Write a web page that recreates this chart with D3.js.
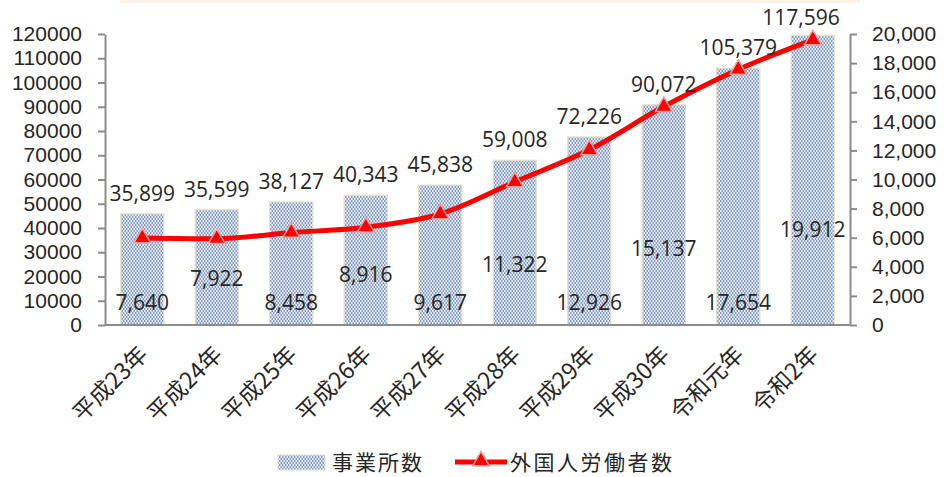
<!DOCTYPE html>
<html>
<head>
<meta charset="utf-8">
<script src="https://d3js.org/d3.v7.min.js"></script>
<style>
  body { margin:0; background:#fff; }
  svg text { font-family:"Open Sans","Noto Sans",sans-serif; fill:#262626; }
  .jp { font-family:"Noto Sans CJK JP",sans-serif; }
</style>
</head>
<body>
<svg id="chart"></svg>
<script>
// data
var years = ["平成23年","平成24年","平成25年","平成26年","平成27年","平成28年","平成29年","平成30年","令和元年","令和2年"];
var offices = [7640, 7922, 8458, 8916, 9617, 11322, 12926, 15137, 17654, 19912];      // bars, right axis
var workers = [35899, 35599, 38127, 40343, 45838, 59008, 72226, 90072, 105379, 117596]; // line, left axis
var leftTicks = [0,10000,20000,30000,40000,50000,60000,70000,80000,90000,100000,110000,120000];
var rightTicks = [0,2000,4000,6000,8000,10000,12000,14000,16000,18000,20000];
var barName = "事業所数";
var lineName = "外国人労働者数";

var screen = { width:944, height:477 };
var svg = d3.select("#chart")
            .attr("width", screen.width)
            .attr("height", screen.height);

var plot = { left:105, right:850, top:34, bottom:325 };

// bar pattern (dotted fill)
var defs = svg.append("defs");
var pat = defs.append("pattern")
              .attr("id","dots")
              .attr("patternUnits","userSpaceOnUse")
              .attr("width",3).attr("height",4);
pat.append("rect").attr("width",3).attr("height",4).attr("fill","#e4ebf5");
pat.append("circle").attr("cx",0.75).attr("cy",1).attr("r",0.8).attr("fill","#3f5f97");
pat.append("circle").attr("cx",2.25).attr("cy",3).attr("r",0.8).attr("fill","#3f5f97");

// faint strip at the very top
svg.append("rect").attr("x",120).attr("y",0).attr("width",740).attr("height",3).attr("fill","#fdf4e6");

var xScale = d3.scaleBand()
               .domain(years)
               .range([plot.left, plot.right])
               .paddingInner(0.42)
               .paddingOuter(0.21);
var yLeft = d3.scaleLinear().domain([0,120000]).range([plot.bottom, plot.top]);
var yRight = d3.scaleLinear().domain([0,20000]).range([plot.bottom, plot.top]);

// bars
svg.append("g").selectAll("rect")
   .data(offices)
   .enter()
   .append("rect")
   .attr("x", function(d,i) { return xScale(years[i]); })
   .attr("y", function(d) { return yRight(d); })
   .attr("width", xScale.bandwidth())
   .attr("height", function(d) { return plot.bottom - yRight(d); })
   .attr("fill","url(#dots)")
   .attr("stroke","#e6e2c6")
   .attr("stroke-width",1.2);

// axes
var axisColor = "#8c8c8c";
svg.append("line")
   .attr("x1",plot.left).attr("x2",plot.right)
   .attr("y1",plot.bottom).attr("y2",plot.bottom)
   .attr("stroke",axisColor).attr("stroke-width",2);

var yAxis = d3.axisLeft(yLeft).tickValues(leftTicks).tickFormat(d3.format("d"))
              .tickSize(7).tickSizeOuter(0).tickPadding(16);
var gl = svg.append("g").attr("transform","translate("+plot.left+",0)").call(yAxis);

var yAxis2 = d3.axisRight(yRight).tickValues(rightTicks).tickFormat(d3.format(","))
               .tickSize(7).tickSizeOuter(0).tickPadding(15);
var gr = svg.append("g").attr("transform","translate("+plot.right+",0)").call(yAxis2);

[gl, gr].forEach(function(g) {
  g.select(".domain").attr("stroke",axisColor).attr("stroke-width",2);
  g.selectAll(".tick line").attr("stroke",axisColor).attr("stroke-width",2);
  g.selectAll(".tick text")
   .style("font-family","'Liberation Sans',Arial,sans-serif")
   .style("font-size","21px").attr("fill","#262626");
});

// line
var cx = function(d,i) { return xScale(years[i]) + xScale.bandwidth()/2; };
var line = d3.line()
             .x(function(d,i) { return cx(d,i); })
             .y(function(d) { return yLeft(d); })
             .curve(d3.curveMonotoneX);
svg.append("path")
   .datum(workers)
   .attr("d", line)
   .attr("fill","none")
   .attr("stroke","#ff0000")
   .attr("stroke-width",5);

var tri = d3.symbol().type(d3.symbolTriangle).size(120);
svg.append("g").selectAll("path")
   .data(workers)
   .enter()
   .append("path")
   .attr("d", tri)
   .attr("transform", function(d,i) { return "translate("+cx(d,i)+","+yLeft(d)+")"; })
   .attr("fill","#ff0000")
   .attr("stroke","#f7a0a0")
   .attr("stroke-width",1.5);

// labels for line values, above the higher of bar top / point
svg.append("g").selectAll("text")
   .data(workers)
   .enter()
   .append("text")
   .attr("x", function(d,i) { return Math.min(cx(d,i), 801); })
   .attr("y", function(d,i) { return Math.max(Math.min(yLeft(d), yRight(offices[i])) - 13, 25); })
   .attr("text-anchor","middle")
   .style("font-size","21px")
   .text(d3.format(","));

// labels for bar values, alternating low / mid
svg.append("g").selectAll("text")
   .data(offices)
   .enter()
   .append("text")
   .attr("x", function(d,i) { return cx(d,i); })
   .attr("y", function(d,i) {
      var c = (i % 2 === 0) ? 302 : yRight(d*0.28 + 1000);
      return c + 7.5;
   })
   .attr("text-anchor","middle")
   .style("font-size","21px")
   .text(d3.format(","));

// category labels
svg.append("g").selectAll("text")
   .data(years)
   .enter()
   .append("text")
   .attr("class","jp")
   .attr("transform", function(d) { return "translate("+(xScale(d)+xScale.bandwidth()/2+7)+",356) rotate(-45)"; })
   .attr("text-anchor","end")
   .style("font-size","23px")
   .text(function(d) { return d; });

// legend
var legend = svg.append("g").classed("legend",true);
legend.append("rect")
      .attr("x",278).attr("y",455).attr("width",47).attr("height",15)
      .attr("fill","url(#dots)").attr("stroke","#e6e2c6");
legend.append("text")
      .attr("class","jp")
      .attr("x",332).attr("y",470)
      .style("font-size","21px").style("letter-spacing","2px")
      .attr("fill","#333")
      .text(barName);
legend.append("line")
      .attr("x1",455).attr("x2",507).attr("y1",462).attr("y2",462)
      .attr("stroke","#ff0000").attr("stroke-width",5);
legend.append("path")
      .attr("d",tri)
      .attr("transform","translate(481,461)")
      .attr("fill","#ff0000").attr("stroke","#f7a0a0").attr("stroke-width",1.5);
legend.append("text")
      .attr("class","jp")
      .attr("x",510).attr("y",470)
      .style("font-size","21px").style("letter-spacing","2.5px")
      .attr("fill","#333")
      .text(lineName);
</script>
</body>
</html>
